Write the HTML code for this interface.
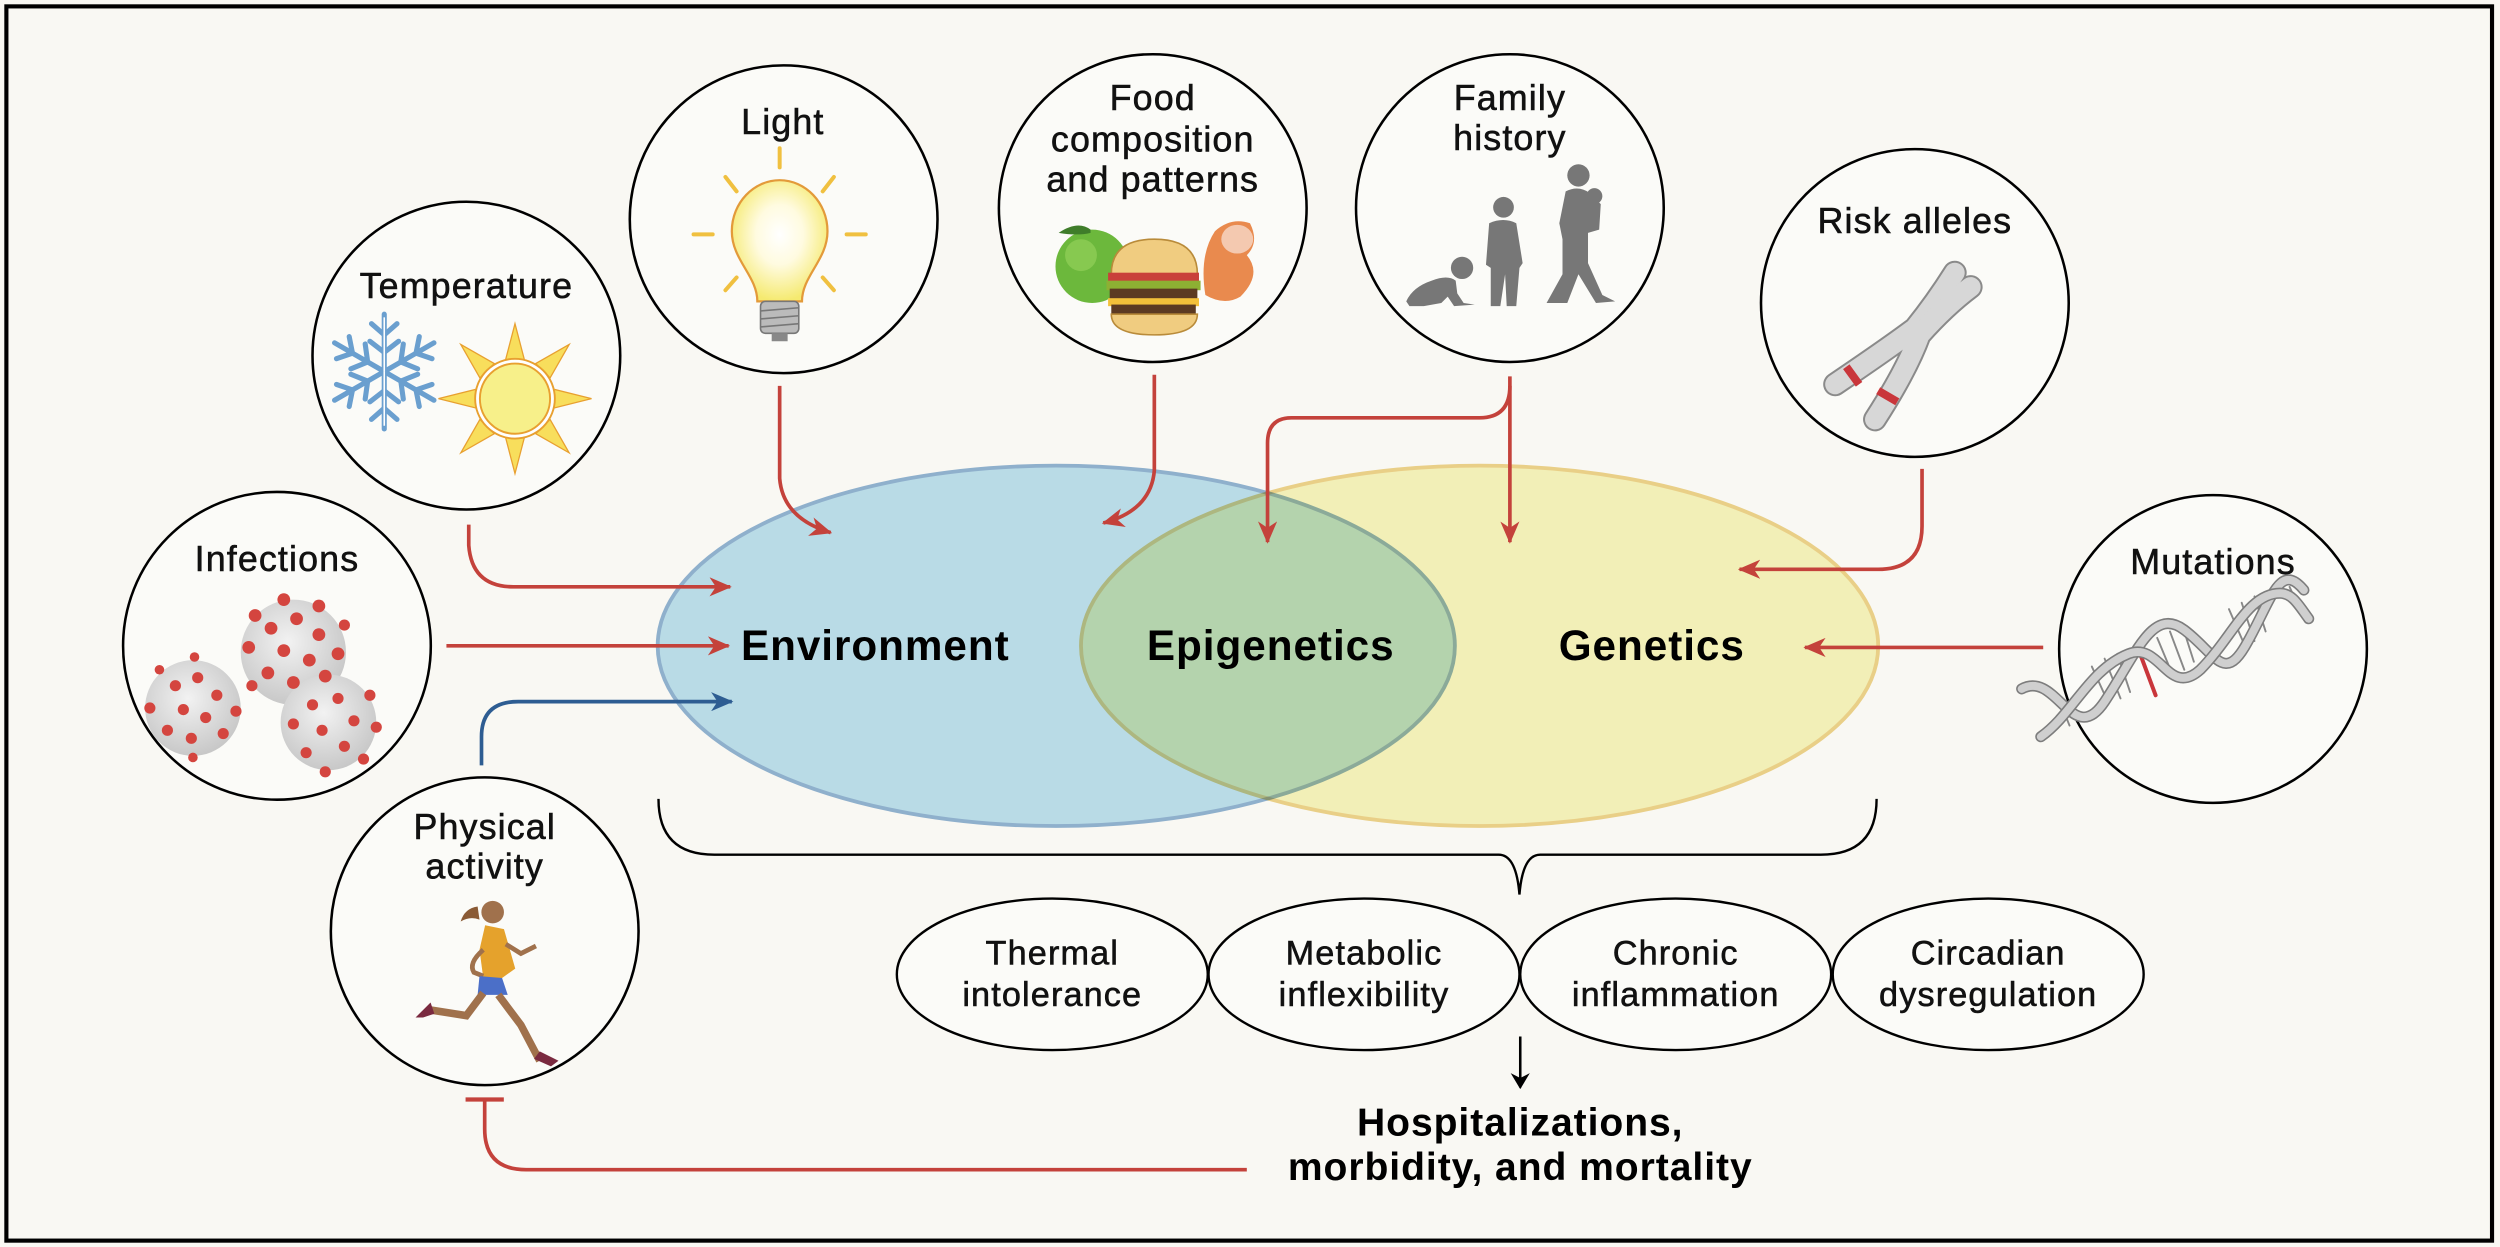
<!DOCTYPE html>
<html><head><meta charset="utf-8"><style>
html,body{margin:0;padding:0;background:#f9f8f3}
svg{display:block}
.lb{font-family:"Liberation Sans",Arial,sans-serif;font-size:22.5px;fill:#111;stroke:#111;stroke-width:0.35;letter-spacing:0.7px;text-anchor:middle}
.bd{font-family:"Liberation Sans",Arial,sans-serif;font-weight:bold;fill:#000;text-anchor:middle;letter-spacing:0.6px}
.circ{fill:#fbfbf8;stroke:#000;stroke-width:1.6}
.ra{fill:none;stroke:#c4423b;stroke-width:2.3}
</style></head><body>
<svg width="2500" height="1247" viewBox="0 0 1568 782" preserveAspectRatio="none" xmlns="http://www.w3.org/2000/svg">
<defs>
<marker id="ar" markerUnits="userSpaceOnUse" viewBox="0 0 14 12" refX="13" refY="6" markerWidth="14" markerHeight="12" orient="auto"><path d="M0,0 L14,6 L0,12 L4,6 Z" fill="#c4423b"/></marker>
<marker id="ab" markerUnits="userSpaceOnUse" viewBox="0 0 14 12" refX="13" refY="6" markerWidth="14" markerHeight="12" orient="auto"><path d="M0,0 L14,6 L0,12 L4,6 Z" fill="#2e5d92"/></marker>
<marker id="ak" markerUnits="userSpaceOnUse" viewBox="0 0 10 14" refX="9" refY="7" markerWidth="10" markerHeight="14" orient="auto"><path d="M0,1 L10,7 L0,13 L3,7 Z" fill="#000"/></marker>
<radialGradient id="bulb" cx="0.5" cy="0.45" r="0.55"><stop offset="0" stop-color="#fff"/><stop offset="0.45" stop-color="#fffbe0"/><stop offset="1" stop-color="#f5ea70"/></radialGradient>
<radialGradient id="vir" cx="0.45" cy="0.4" r="0.6"><stop offset="0" stop-color="#f2f2f2"/><stop offset="1" stop-color="#c8c8c8"/></radialGradient>
</defs>
<rect x="0" y="0" width="1568" height="782" fill="#f9f8f3"/>
<rect x="4" y="4" width="1559" height="774" fill="none" stroke="#000" stroke-width="2.6"/>

<!-- Venn -->
<ellipse cx="662.5" cy="405" rx="250" ry="113" fill="#b9dbe6" stroke="#8fb0cc" stroke-width="2.4"/>
<ellipse cx="928" cy="405" rx="250" ry="113" fill="#f8f6c0" stroke="#efd58e" stroke-width="2.4" style="mix-blend-mode:multiply"/>
<text class="bd" x="549" y="414" font-size="26.5">Environment</text>
<text class="bd" x="797" y="414" font-size="26.5">Epigenetics</text>
<text class="bd" x="1036" y="414" font-size="26.5">Genetics</text>

<!-- brace -->
<path d="M413,501 Q413,536 448,536 L940,536 Q951,536 953,561 Q955,536 966,536 L1142,536 Q1177,536 1177,501" fill="none" stroke="#000" stroke-width="1.5"/>

<!-- bottom ellipses -->
<g fill="#fbfbf8" stroke="#000" stroke-width="1.5">
<ellipse cx="660" cy="611" rx="97.5" ry="47.5"/>
<ellipse cx="855.5" cy="611" rx="97.5" ry="47.5"/>
<ellipse cx="1051" cy="611" rx="97.5" ry="47.5"/>
<ellipse cx="1247" cy="611" rx="97.5" ry="47.5"/>
</g>
<g class="lb" style="font-size:21.5px">
<text x="660" y="605">Thermal</text><text x="660" y="631">intolerance</text>
<text x="855.5" y="605">Metabolic</text><text x="855.5" y="631">inflexibility</text>
<text x="1051" y="605">Chronic</text><text x="1051" y="631">inflammation</text>
<text x="1247" y="605">Circadian</text><text x="1247" y="631">dysregulation</text>
</g>
<line x1="953.5" y1="650" x2="953.5" y2="682" stroke="#000" stroke-width="1.6" marker-end="url(#ak)"/>
<text class="bd" x="953.5" y="712" font-size="24.5">Hospitalizations,</text>
<text class="bd" x="953.5" y="740" font-size="24.5">morbidity, and mortality</text>

<!-- arrows -->
<path class="ra" d="M489,242 L489,300 Q491,325 521,334" marker-end="url(#ar)"/>
<path class="ra" d="M724,235 L724,295 Q722,320 692,328" marker-end="url(#ar)"/>
<path class="ra" d="M294,329 L294,342 Q296,368 322,368 L458,368" marker-end="url(#ar)"/>
<path class="ra" d="M280,405 L457,405" marker-end="url(#ar)"/>
<path d="M302,480 L302,462 Q302,440 325,440 L459,440" fill="none" stroke="#2e5d92" stroke-width="2.3" marker-end="url(#ab)"/>
<path class="ra" d="M947,236 L947,340" marker-end="url(#ar)"/>
<path class="ra" d="M947,242 Q947,262 928,262 L810,262 Q795,262 795,278 L795,340" marker-end="url(#ar)"/>
<path class="ra" d="M1205.5,294 L1205.5,330 Q1205.5,357 1178,357 L1091,357" marker-end="url(#ar)"/>
<path class="ra" d="M1281.5,406 L1132,406" marker-end="url(#ar)"/>
<path class="ra" d="M782,733.5 L330,733.5 Q304,733.5 304,708 L304,690"/>
<line x1="292" y1="689.5" x2="316" y2="689.5" stroke="#c4423b" stroke-width="2.6"/>

<!-- circles -->
<circle class="circ" cx="292.5" cy="223" r="96.5"/>
<circle class="circ" cx="491.5" cy="137.5" r="96.5"/>
<circle class="circ" cx="723" cy="130.5" r="96.5"/>
<circle class="circ" cx="947" cy="130.5" r="96.5"/>
<circle class="circ" cx="1201" cy="190" r="96.5"/>
<circle class="circ" cx="1388" cy="407" r="96.5"/>
<circle class="circ" cx="173.7" cy="405" r="96.5"/>
<circle class="circ" cx="304" cy="584" r="96.5"/>

<g class="lb">
<text x="292.5" y="187">Temperature</text>
<text x="491" y="84">Light</text>
<text x="723" y="69">Food</text><text x="723" y="95">composition</text><text x="723" y="120">and patterns</text>
<text x="947" y="69">Family</text><text x="947" y="94">history</text>
<text x="1201" y="146">Risk alleles</text>
<text x="1388" y="360">Mutations</text>
<text x="173.7" y="358">Infections</text>
<text x="304" y="526">Physical</text><text x="304" y="551">activity</text>
</g>

<!-- snowflake -->
<g stroke="#6a9fcf" stroke-width="3.2" fill="none" stroke-linecap="round">
<g id="arm"><line x1="241" y1="233" x2="241" y2="197"/><polyline points="233,203 241,210 249,203"/><polyline points="232,214 241,221 250,214"/></g>
<use href="#arm" transform="rotate(60 241 233)"/><use href="#arm" transform="rotate(120 241 233)"/><use href="#arm" transform="rotate(180 241 233)"/><use href="#arm" transform="rotate(240 241 233)"/><use href="#arm" transform="rotate(300 241 233)"/>
</g>
<g stroke="#fff" stroke-width="1" fill="none"><line x1="241" y1="233" x2="241" y2="199"/><line x1="241" y1="233" x2="241" y2="267"/></g>
<!-- sun -->
<g transform="translate(323,250)">
<g fill="#f8de5c" stroke="#e8a030" stroke-width="0.8">
<polygon points="0,-47 6,-24 -6,-24"/><polygon points="0,47 6,24 -6,24"/><polygon points="-48,0 -24,6 -24,-6"/><polygon points="48,0 24,6 24,-6"/>
<polygon points="-34,-34 -13,-22 -22,-13"/><polygon points="34,-34 13,-22 22,-13"/><polygon points="-34,34 -13,22 -22,13"/><polygon points="34,34 13,22 22,13"/>
</g>
<circle r="25" fill="#fff" stroke="#e8a030" stroke-width="1.2"/>
<circle r="22" fill="#f7f08a" stroke="#e8a030" stroke-width="1.2"/>
</g>
<!-- bulb -->
<g transform="translate(489,145)">
<g stroke="#f0c040" stroke-width="2.5" stroke-linecap="round">
<line x1="0" y1="-52" x2="0" y2="-40"/><line x1="-34" y1="-34" x2="-27" y2="-25"/><line x1="34" y1="-34" x2="27" y2="-25"/>
<line x1="-54" y1="2" x2="-42" y2="2"/><line x1="54" y1="2" x2="42" y2="2"/><line x1="-34" y1="37" x2="-27" y2="29"/><line x1="34" y1="37" x2="27" y2="29"/>
</g>
<path d="M-14,44 C-14,28 -30,18 -30,0 C-30,-18 -16,-32 0,-32 C16,-32 30,-18 30,0 C30,18 14,28 14,44 Z" fill="url(#bulb)" stroke="#e39a3a" stroke-width="1.4"/>
<rect x="-12" y="44" width="24" height="20" rx="3" fill="#bbb" stroke="#777"/>
<g stroke="#777" stroke-width="1"><line x1="-12" y1="50" x2="12" y2="48"/><line x1="-12" y1="55" x2="12" y2="53"/><line x1="-12" y1="60" x2="12" y2="58"/></g>
<rect x="-5" y="64" width="10" height="5" fill="#888"/>
</g>
<!-- food -->
<g>
<path d="M756,185 Q752,160 762,145 Q772,136 784,140 Q790,152 782,160 Q792,172 778,186 Q768,192 756,185 Z" fill="#e98a4e"/>
<ellipse cx="776" cy="150" rx="10" ry="9" fill="#f4c9b0"/>
<circle cx="685" cy="167" r="23" fill="#6cb83c"/>
<circle cx="678" cy="160" r="10" fill="#9ad45e" opacity="0.6"/>
<path d="M684,144 Q676,138 664,146 Q676,148 684,146 Z" fill="#3f7d2a"/>
<path d="M697,172 Q697,150 724,150 Q751,150 751,172 Z" fill="#f0cc80" stroke="#b98b3a"/>
<rect x="695" y="171" width="57" height="6" fill="#c9403a"/>
<rect x="694" y="176" width="59" height="6" fill="#8db033"/>
<rect x="696" y="181" width="55" height="7" fill="#5c3a22"/>
<rect x="695" y="187" width="57" height="5" fill="#f3c03a"/>
<rect x="697" y="191" width="53" height="6" fill="#5c3a22"/>
<path d="M697,197 L751,197 Q751,210 724,210 Q697,210 697,197 Z" fill="#f0cc80" stroke="#b98b3a"/>
</g>
<!-- family silhouettes -->
<g fill="#777">
<circle cx="917" cy="168" r="7"/>
<path d="M882,189 Q886,180 898,176 Q908,172 913,176 L914,184 L918,190 L925,191 L912,192 L908,186 L904,190 L893,192 L884,192 Z"/>
<circle cx="943" cy="130" r="6.5"/>
<path d="M934,140 Q943,136 951,140 L955,165 L953,168 L951,192 L945,192 L944,172 L941,192 L935,192 L935,168 L932,166 Z"/>
<circle cx="990" cy="110" r="7"/>
<circle cx="1000" cy="123" r="5"/>
<path d="M982,120 Q990,116 997,121 L1004,128 L1003,144 L996,146 L996,165 L1005,185 L1013,189 L1001,190 L990,172 L983,190 L970,190 L980,172 L980,150 L978,140 Z"/>
</g>
<!-- chromosome -->
<g fill="none" stroke-linecap="round" stroke-linejoin="round">
<path d="M1151,241 Q1185,218 1201,206 Q1214,190 1226,171" stroke="#8a8a8a" stroke-width="15"/>
<path d="M1176,263 Q1196,232 1204,210 Q1220,192 1236,180" stroke="#8a8a8a" stroke-width="15"/>
<path d="M1151,241 Q1185,218 1201,206 Q1214,190 1226,171" stroke="#d7d7d7" stroke-width="12.5"/>
<path d="M1176,263 Q1196,232 1204,210 Q1220,192 1236,180" stroke="#d7d7d7" stroke-width="12.5"/>
</g>
<g stroke="#c9363b" stroke-width="5"><line x1="1158" y1="230" x2="1166" y2="241"/><line x1="1178" y1="245" x2="1190" y2="252"/></g>
<!-- DNA -->
<g fill="none" stroke-linecap="round">
<g stroke="#888" stroke-width="1.2">
<line x1="1312" y1="418" x2="1322" y2="440"/><line x1="1320" y1="413" x2="1330" y2="438"/><line x1="1328" y1="410" x2="1336" y2="434"/>
<line x1="1353" y1="400" x2="1363" y2="424"/><line x1="1361" y1="396" x2="1370" y2="420"/><line x1="1369" y1="393" x2="1376" y2="415"/>
<line x1="1398" y1="382" x2="1408" y2="405"/><line x1="1406" y1="378" x2="1414" y2="402"/><line x1="1414" y1="374" x2="1421" y2="396"/>
<line x1="1290" y1="435" x2="1298" y2="455"/><line x1="1436" y1="368" x2="1444" y2="386"/>
</g>
<line x1="1340" y1="404" x2="1352" y2="436" stroke="#c9363b" stroke-width="2.5"/>
<path d="M1268,432 C1290,420 1300,470 1320,440 C1340,410 1350,380 1370,395 C1390,410 1395,430 1410,402 C1425,375 1430,352 1445,370" stroke="#7d7d7d" stroke-width="7"/>
<path d="M1268,432 C1290,420 1300,470 1320,440 C1340,410 1350,380 1370,395 C1390,410 1395,430 1410,402 C1425,375 1430,352 1445,370" stroke="#cfcfcf" stroke-width="5"/>
<path d="M1280,462 C1300,448 1310,420 1335,410 C1355,402 1360,438 1380,420 C1400,400 1410,372 1430,372 C1438,372 1442,380 1448,388" stroke="#7d7d7d" stroke-width="7"/>
<path d="M1280,462 C1300,448 1310,420 1335,410 C1355,402 1360,438 1380,420 C1400,400 1410,372 1430,372 C1438,372 1442,380 1448,388" stroke="#cfcfcf" stroke-width="5"/>
</g>
<!-- viruses -->
<circle cx="121" cy="444" r="30" fill="url(#vir)"/>
<circle cx="184" cy="409" r="33" fill="url(#vir)"/>
<circle cx="206" cy="453" r="30" fill="url(#vir)"/>
<g fill="#d4453f">
<circle cx="110" cy="430" r="3.5"/><circle cx="124" cy="425" r="3.5"/><circle cx="136" cy="436" r="3.5"/><circle cx="115" cy="445" r="3.5"/><circle cx="129" cy="450" r="3.5"/><circle cx="105" cy="458" r="3.5"/><circle cx="120" cy="463" r="3.5"/><circle cx="140" cy="460" r="3.5"/><circle cx="94" cy="444" r="3.5"/><circle cx="148" cy="446" r="3.5"/><circle cx="100" cy="420" r="3"/><circle cx="122" cy="412" r="3"/><circle cx="121" cy="475" r="3"/>
<circle cx="170" cy="394" r="4"/><circle cx="186" cy="388" r="4"/><circle cx="200" cy="398" r="4"/><circle cx="178" cy="408" r="4"/><circle cx="194" cy="414" r="4"/><circle cx="168" cy="422" r="4"/><circle cx="184" cy="428" r="4"/><circle cx="204" cy="424" r="4"/><circle cx="156" cy="406" r="4"/><circle cx="212" cy="410" r="4"/><circle cx="178" cy="376" r="4"/><circle cx="200" cy="380" r="4"/><circle cx="160" cy="386" r="4"/><circle cx="158" cy="430" r="3.5"/><circle cx="216" cy="392" r="3.5"/>
<circle cx="196" cy="442" r="3.5"/><circle cx="212" cy="438" r="3.5"/><circle cx="222" cy="452" r="3.5"/><circle cx="202" cy="458" r="3.5"/><circle cx="216" cy="468" r="3.5"/><circle cx="192" cy="472" r="3.5"/><circle cx="184" cy="454" r="3.5"/><circle cx="236" cy="456" r="3.5"/><circle cx="204" cy="484" r="3.5"/><circle cx="228" cy="476" r="3.5"/><circle cx="232" cy="436" r="3.5"/>
</g>
<!-- runner -->
<g transform="translate(309,572) scale(1.18) translate(-295,-548)">
<circle cx="295" cy="548" r="6" fill="#a0714c"/>
<path d="M287,545 Q280,546 278,553 Q283,550 288,552 Z" fill="#8a5a35"/>
<path d="M291,555 L301,557 L307,578 L300,583 L290,583 L288,568 Z" fill="#e5a22c"/>
<path d="M290,568 Q282,575 285,580 L290,582" fill="none" stroke="#a0714c" stroke-width="2.5"/>
<path d="M302,565 L310,570 L318,566" fill="none" stroke="#a0714c" stroke-width="2.5"/>
<path d="M288,582 L300,583 L303,592 L287,592 Z" fill="#4b6fc8"/>
<path d="M290,591 L281,603 L262,600" fill="none" stroke="#a0714c" stroke-width="4"/>
<path d="M298,592 L310,608 L320,627" fill="none" stroke="#a0714c" stroke-width="4"/>
<path d="M262,596 L254,604 L258,604 L264,602 Z" fill="#7a2a40"/>
<path d="M317,626 L326,630 L330,627 L320,622 Z" fill="#7a2a40"/>
</g>
</svg>
</body></html>
